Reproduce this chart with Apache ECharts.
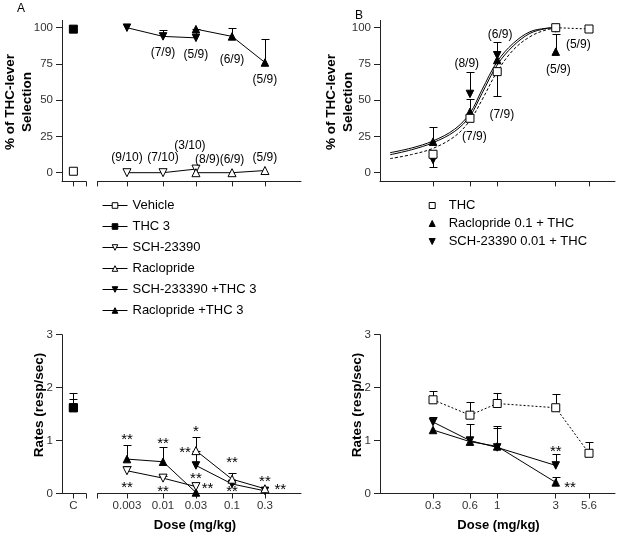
<!DOCTYPE html>
<html><head><meta charset="utf-8">
<script src="https://cdn.jsdelivr.net/npm/echarts@6/dist/echarts.min.js"></script>
<style>html,body{margin:0;padding:0;background:#fff}#c{width:624px;height:537px}</style>
</head><body><div id="c"></div>
<script>
// ================= DATA =================
const doseA = [0.003, 0.01, 0.03, 0.1, 0.3];
const doseALabels = ['0.003', '0.01', '0.03', '0.1', '0.3'];
const doseB = [0.3, 0.6, 1, 3, 5.6];
const doseBLabels = ['0.3', '0.6', '1', '3', '5.6'];
const ctrlLabel = 'C';
const selTicks = [0, 25, 50, 75, 100];
const rateTicks = [0, 1, 2, 3];

// Panel A, top: % of THC-lever selection
const selVehicleC = 1;
const selTHC3C = 99;
const selSCH = [0, 0, 2.5];              // doses 0.003, 0.01, 0.03
const selRac = [0, 0, 1.5];              // doses 0.03, 0.1, 0.3
const selSCHTHC = [100, 94, 93];         // doses 0.003, 0.01, 0.03
const selSCHTHCErr = [null, 98.6, 99];
const selRacTHC = [99, 94, 76];          // doses 0.03, 0.1, 0.3
const selRacTHCErr = [null, 99.6, 92];
const annotA = [
  [0.01, 83, '(7/9)'], [0.03, 81.2, '(5/9)'], [0.1, 77.7, '(6/9)'], [0.3, 64, '(5/9)'],
  [0.003, 10.6, '(9/10)'], [0.01, 10.6, '(7/10)'], [0.0245, 18.6, '(3/10)'],
  [0.044, 8.8, '(8/9)'], [0.1, 8.8, '(6/9)'], [0.3, 10.6, '(5/9)']
];

// Panel B, top
const selTHC = [12.7, 37.5, 69.7, 100, 99.1];
const selTHCErr = [null, null, 52.9, null, null];
const selRacB = [21.4, 42, 77.7, 83.5];        // doses 0.3, 0.6, 1, 3
const selRacBErr = [31.7, 50.8, 90.3, 95.7];
const selSCHB = [8.8, 54.3, 81, 99.5];
const selSCHBErr = [3.7, 69.7, null, null];
const curveDose = [0.134, 0.2, 0.3, 0.45, 0.6, 0.75, 1, 1.35, 1.85, 2.5, 3];
const curveTHC = [9.7, 12.5, 16.8, 25, 36, 50, 69.7, 84.6, 93.8, 98.5, 99.6];
const curveRac = [13.8, 17, 21.9, 30, 41, 57, 76.6, 89.2, 97.2, 99.6, 100];
const curveSCH = [12.4, 15.8, 20.7, 28.5, 39, 54.5, 74.3, 87.4, 96.1, 99.4, 100];
const thcTailDose = [3, 5.6];
const thcTail = [100, 99.1];
const annotB = [
  [0.565, 75.4, '(8/9)'], [1.055, 95.4, '(6/9)'], [4.58, 88.6, '(5/9)'],
  [3.15, 70.8, '(5/9)'], [1.09, 39.8, '(7/9)'], [0.651, 24.8, '(7/9)']
];

// Panel A, bottom: rates
const rateVehicleC = 1.62, rateVehicleCErr = 1.79;
const rateTHC3C = 1.62, rateTHC3CErr = 1.89;
const rateRacTHC = [0.65, 0.60, 0.02];      // doses 0.003, 0.01, 0.03
const rateRacTHCErr = [0.92, 0.87, null];
const rateSCH = [0.43, 0.29, 0.13];         // doses 0.003, 0.01, 0.03
const rateSCHErr = [0.52, 0.33, null];
const rateRac = [0.81, 0.27, 0.09];         // doses 0.03, 0.1, 0.3
const rateRacErr = [1.07, 0.39, null];
const rateSCHTHC = [0.53, 0.18, 0.05];      // doses 0.03, 0.1, 0.3
const rateSCHTHCErr = [0.8, null, null];
const starsA = [
  [0.003, 1.07, '**'], [0.003, 0.17, '**'], [0.01, 0.99, '**'], [0.01, 0.08, '**'],
  [0.03, 1.23, '*'], [0.0208, 0.82, '**'], [0.03, 0.34, '**'], [0.0443, 0.15, '**'],
  [0.1, 0.63, '**'], [0.1, 0.08, '**'], [0.3, 0.27, '**'], [0.5, 0.13, '**']
];

// Panel B, bottom
const rateTHC = [1.77, 1.48, 1.70, 1.62, 0.76];
const rateTHCErr = [1.94, 1.73, 1.90, 1.88, 0.97];
const rateSCHB = [1.35, 1.0, 0.87, 0.53];
const rateSCHBErr = [1.45, 1.31, 1.28, 0.74];
const rateRacB = [1.2, 0.98, 0.89, 0.21];
const rateRacBErr = [null, null, 1.24, 0.32];
const starsB = [[3, 0.85, '**'], [3.92, 0.16, '**']];

// ================= LAYOUT / STYLE =================
const FONT = "'Liberation Sans', Arial, Helvetica, sans-serif";
const L = Math.log10;
const AX = '#222', LBL = '#333';
const ctrlRange = [-0.9, 1];
const rangeA = [-2.95, 0];
const rangeB = [-0.955, 0.96];
const topTop = 20.45, topH = 160.95, botTop = 334.7, botH = 158.8;

const grids = [
  {left: 62, top: topTop, width: 24, height: topH},
  {left: 97.5, top: topTop, width: 203.5, height: topH},
  {left: 380, top: topTop, width: 235, height: topH},
  {left: 62, top: botTop, width: 24, height: botH},
  {left: 97.5, top: botTop, width: 203.5, height: botH},
  {left: 380, top: botTop, width: 235, height: botH}
];

function pick(arr, labels) {
  return v => { let bi = 0, bd = 1e9; arr.forEach((d, i) => { const dd = Math.abs(L(d) - v); if (dd < bd) { bd = dd; bi = i; } }); return labels[bi]; };
}
const lblStyle = {color: LBL, fontSize: 11.5, fontFamily: FONT};
function xAxisDef(gi, range, tickVals, labelVals, fmt, showLabel) {
  return {type: 'value', gridIndex: gi, min: range[0], max: range[1],
    axisLine: {show: true, onZero: false, lineStyle: {color: AX, width: 1}},
    axisTick: {show: true, length: 5, customValues: tickVals, lineStyle: {color: AX}},
    axisLabel: Object.assign({show: showLabel, customValues: labelVals, formatter: fmt, margin: 6}, lblStyle),
    splitLine: {show: false}};
}
function yAxisDef(gi, min, max, ticks, show) {
  return {type: 'value', gridIndex: gi, min, max,
    axisLine: {show: show, onZero: false, lineStyle: {color: AX, width: 1}},
    axisTick: {show: show, length: 6, customValues: ticks, lineStyle: {color: AX}},
    axisLabel: Object.assign({show: show, customValues: ticks, margin: 9}, lblStyle),
    splitLine: {show: false}};
}

const xAxes = [
  xAxisDef(0, ctrlRange, [0, 1], [0], () => ctrlLabel, false),
  xAxisDef(1, rangeA, [rangeA[0]].concat(doseA.map(L)), doseA.map(L), pick(doseA, doseALabels), false),
  xAxisDef(2, rangeB, doseB.map(L), doseB.map(L), pick(doseB, doseBLabels), false),
  xAxisDef(3, ctrlRange, [0, 1], [0], () => ctrlLabel, true),
  xAxisDef(4, rangeA, [rangeA[0]].concat(doseA.map(L)), doseA.map(L), pick(doseA, doseALabels), true),
  xAxisDef(5, rangeB, doseB.map(L), doseB.map(L), pick(doseB, doseBLabels), true)
];
const yAxes = [
  yAxisDef(0, -6, 105, selTicks, true),
  yAxisDef(1, -6, 105, selTicks, false),
  yAxisDef(2, -6, 105, selTicks, true),
  yAxisDef(3, 0, 3, rateTicks, true),
  yAxisDef(4, 0, 3, rateTicks, false),
  yAxisDef(5, 0, 3, rateTicks, true)
];

const W = {color: '#fff', borderColor: '#000', borderWidth: 1};
const K = {color: '#000', borderColor: '#000', borderWidth: 1};
const MK = {
  openSq: {symbol: 'rect', symbolSize: 8, itemStyle: W},
  fillSq: {symbol: 'rect', symbolSize: 8, itemStyle: K},
  openDn: {symbol: 'triangle', symbolRotate: 180, symbolSize: 8, itemStyle: W},
  openUp: {symbol: 'triangle', symbolSize: 8, itemStyle: W},
  fillDn: {symbol: 'triangle', symbolRotate: 180, symbolSize: 7.5, itemStyle: K},
  fillUp: {symbol: 'triangle', symbolSize: 7.5, itemStyle: K}
};
function pts(doses, vals, log) { return doses.map((d, i) => [log === false ? d : L(d), vals[i]]); }
function ser(name, gi, data, mk, extra) {
  return Object.assign({name, type: 'line', xAxisIndex: gi, yAxisIndex: gi, data, showSymbol: true,
    lineStyle: {color: '#000', width: 1}, z: 3, emphasis: {disabled: true}, animation: false}, mk, extra || {});
}
function errSer(gi, doses, vals, errs, log) {
  const data = [];
  doses.forEach((d, i) => { if (errs[i] != null) data.push([log === false ? d : L(d), vals[i], errs[i]]); });
  return {type: 'custom', xAxisIndex: gi, yAxisIndex: gi, data, z: 1, silent: true, animation: false,
    encode: {x: 0, y: [1, 2]},
    renderItem(params, api) {
      const p0 = api.coord([api.value(0), api.value(1)]);
      const p1 = api.coord([api.value(0), api.value(2)]);
      const x = Math.round(p0[0]) + 0.5, y1 = Math.round(p1[1]) + 0.5;
      return {type: 'group', children: [
        {type: 'line', shape: {x1: x, y1: p0[1], x2: x, y2: y1}, style: {stroke: '#000', lineWidth: 1}},
        {type: 'line', shape: {x1: x - 4, y1: y1, x2: x + 4, y2: y1}, style: {stroke: '#000', lineWidth: 1}}
      ]};
    }};
}
function textSer(gi, items, fontSize, dy) {
  return {type: 'custom', xAxisIndex: gi, yAxisIndex: gi, silent: true, z: 6, animation: false,
    data: items.map(t => [L(t[0]), t[1]]),
    renderItem(params, api) {
      const p = api.coord([api.value(0), api.value(1)]);
      return {type: 'text', x: p[0], y: p[1] + dy, style: {text: items[params.dataIndex][2],
        align: 'center', verticalAlign: 'middle', textAlign: 'center', textVerticalAlign: 'middle',
        fontSize, fontFamily: FONT, fill: '#000'}};
    }};
}
const curveStyle = (dash) => ({name: '', type: 'line', symbol: 'none', smooth: 0.35, z: 2, silent: true, animation: false,
  lineStyle: {color: '#000', width: 1, type: dash || 'solid'}});

const series = [
  // ---- A top ----
  errSer(1, doseA.slice(0, 3), selSCHTHC, selSCHTHCErr),
  errSer(1, doseA.slice(2), selRacTHC, selRacTHCErr),
  ser('Vehicle', 0, [[0, selVehicleC]], MK.openSq),
  ser('THC 3', 0, [[0, selTHC3C]], MK.fillSq),
  ser('SCH-23390', 1, pts(doseA.slice(0, 3), selSCH), MK.openDn),
  ser('Raclopride', 1, pts(doseA.slice(2), selRac), MK.openUp),
  ser('SCH-233390 +THC 3', 1, pts(doseA.slice(0, 3), selSCHTHC), MK.fillDn),
  ser('Raclopride +THC 3', 1, pts(doseA.slice(2), selRacTHC), MK.fillUp),
  textSer(1, annotA, 12, 0),
  // ---- B top ----
  errSer(2, doseB, selTHC, selTHCErr),
  errSer(2, doseB.slice(0, 4), selRacB, selRacBErr),
  errSer(2, doseB.slice(0, 4), selSCHB, selSCHBErr),
  Object.assign(curveStyle([3, 2]), {xAxisIndex: 2, yAxisIndex: 2, data: pts(curveDose, curveTHC)}),
  Object.assign(curveStyle(), {xAxisIndex: 2, yAxisIndex: 2, data: pts(curveDose, curveRac)}),
  Object.assign(curveStyle(), {xAxisIndex: 2, yAxisIndex: 2, data: pts(curveDose, curveSCH)}),
  Object.assign(curveStyle([2, 2]), {smooth: false, xAxisIndex: 2, yAxisIndex: 2, data: pts(thcTailDose, thcTail)}),
  ser('SCH-23390 0.01 + THC', 2, pts(doseB.slice(0, 4), selSCHB), MK.fillDn, {lineStyle: {width: 0}}),
  ser('Raclopride 0.1 + THC', 2, pts(doseB.slice(0, 4), selRacB), MK.fillUp, {lineStyle: {width: 0}}),
  ser('THC', 2, pts(doseB, selTHC), MK.openSq, {lineStyle: {width: 0}}),
  textSer(2, annotB, 12, 0),
  // ---- A bottom ----
  errSer(3, [0], [rateVehicleC], [rateVehicleCErr], false),
  errSer(3, [0], [rateTHC3C], [rateTHC3CErr], false),
  errSer(4, doseA.slice(0, 3), rateRacTHC, rateRacTHCErr),
  errSer(4, doseA.slice(0, 3), rateSCH, rateSCHErr),
  errSer(4, doseA.slice(2), rateRac, rateRacErr),
  errSer(4, doseA.slice(2), rateSCHTHC, rateSCHTHCErr),
  ser('Vehicle', 3, [[0, rateVehicleC]], MK.openSq),
  ser('THC 3', 3, [[0, rateTHC3C]], MK.fillSq),
  ser('Raclopride +THC 3', 4, pts(doseA.slice(0, 3), rateRacTHC), MK.fillUp),
  ser('SCH-23390', 4, pts(doseA.slice(0, 3), rateSCH), MK.openDn),
  ser('SCH-233390 +THC 3', 4, pts(doseA.slice(2), rateSCHTHC), MK.fillDn),
  ser('Raclopride', 4, pts(doseA.slice(2), rateRac), MK.openUp),
  textSer(4, starsA, 15, 3),
  // ---- B bottom ----
  errSer(5, doseB, rateTHC, rateTHCErr),
  errSer(5, doseB.slice(0, 4), rateSCHB, rateSCHBErr),
  errSer(5, doseB.slice(0, 4), rateRacB, rateRacBErr),
  ser('THC', 5, pts(doseB, rateTHC), MK.openSq, {lineStyle: {color: '#000', width: 1, type: [2, 2]}}),
  ser('Raclopride 0.1 + THC', 5, pts(doseB.slice(0, 4), rateRacB), MK.fillUp),
  ser('SCH-23390 0.01 + THC', 5, pts(doseB.slice(0, 4), rateSCHB), MK.fillDn),
  textSer(5, starsB, 15, 3)
];

const legendText = {fontSize: 13, color: '#000', fontFamily: FONT, lineHeight: 13};
const option = {
  animation: false,
  backgroundColor: '#fff',
  grid: grids,
  xAxis: xAxes,
  yAxis: yAxes,
  legend: [
    {orient: 'vertical', left: 102, top: 199, padding: 0, itemWidth: 25, itemHeight: 7, itemGap: 8,
     selectedMode: false, textStyle: legendText,
     lineStyle: {width: 1, color: '#000'},
     itemStyle: {borderWidth: 1},
     data: ['Vehicle', 'THC 3', 'SCH-23390', 'Raclopride', 'SCH-233390 +THC 3', 'Raclopride +THC 3']},
    {orient: 'vertical', left: 428.7, top: 199, padding: 0, itemWidth: 6, itemHeight: 6, itemGap: 5,
     selectedMode: false, textStyle: Object.assign({padding: [0, 0, 0, 8.5]}, legendText),
     itemStyle: {borderWidth: 1},
     data: [
       {name: 'THC', icon: 'rect'},
       {name: 'Raclopride 0.1 + THC', icon: 'triangle'},
       {name: 'SCH-23390 0.01 + THC', icon: 'path://M0,0L10,0L5,10Z'}
     ]}
  ],
  graphic: [
    {type: 'text', x: 21, y: 9, style: {text: 'A', fontSize: 12, fontFamily: FONT, fill: '#000', align: 'center', verticalAlign: 'middle'}},
    {type: 'text', x: 359, y: 16, style: {text: 'B', fontSize: 12, fontFamily: FONT, fill: '#000', align: 'center', verticalAlign: 'middle'}},
    {type: 'text', x: 19, y: 102, rotation: Math.PI / 2, style: {text: '% of THC-lever\nSelection', fontSize: 13.5, fontWeight: 'bold', lineHeight: 16.5, fontFamily: FONT, fill: '#000', align: 'center', verticalAlign: 'middle'}},
    {type: 'text', x: 340, y: 102, rotation: Math.PI / 2, style: {text: '% of THC-lever\nSelection', fontSize: 13.5, fontWeight: 'bold', lineHeight: 16.5, fontFamily: FONT, fill: '#000', align: 'center', verticalAlign: 'middle'}},
    {type: 'text', x: 39.5, y: 405, rotation: Math.PI / 2, style: {text: 'Rates (resp/sec)', fontSize: 13.5, fontWeight: 'bold', fontFamily: FONT, fill: '#000', align: 'center', verticalAlign: 'middle'}},
    {type: 'text', x: 357.5, y: 405, rotation: Math.PI / 2, style: {text: 'Rates (resp/sec)', fontSize: 13.5, fontWeight: 'bold', fontFamily: FONT, fill: '#000', align: 'center', verticalAlign: 'middle'}},
    {type: 'text', x: 195, y: 525.7, style: {text: 'Dose (mg/kg)', fontSize: 13, fontWeight: 'bold', fontFamily: FONT, fill: '#000', align: 'center', verticalAlign: 'middle'}},
    {type: 'text', x: 498.5, y: 525.7, style: {text: 'Dose (mg/kg)', fontSize: 13, fontWeight: 'bold', fontFamily: FONT, fill: '#000', align: 'center', verticalAlign: 'middle'}}
  ],
  series
};
const chart = echarts.init(document.getElementById('c'), null, {renderer: 'canvas'});
chart.setOption(option);
</script>
</body></html>
